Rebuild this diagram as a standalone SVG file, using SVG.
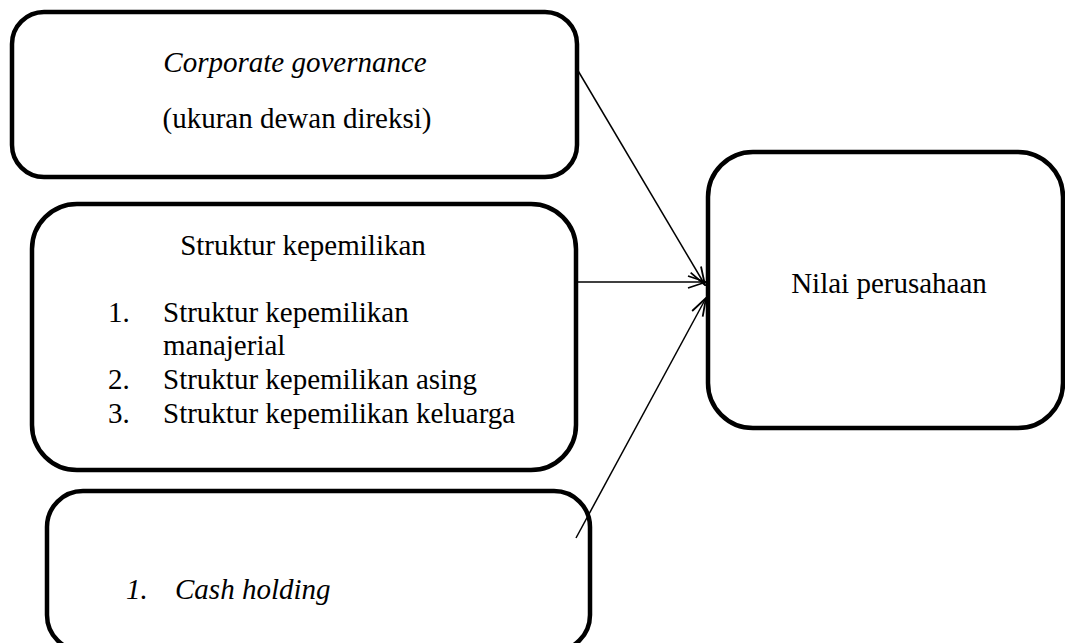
<svg xmlns="http://www.w3.org/2000/svg" width="1065" height="643" viewBox="0 0 1065 643">
  <style>
    .box { fill: #ffffff; stroke: #000000; stroke-width: 4.5; }
    .t { font-family: "Liberation Serif", "Times New Roman", serif; font-size: 29px; fill: #000000; }
    .c { text-anchor: middle; }
    .i { font-style: italic; }
    .conn { stroke: #000000; stroke-width: 1.5; fill: none; marker-end: url(#arrow); }
  </style>
  <defs>
    <marker id="arrow" viewBox="0 0 20 14" refX="19" refY="7" markerWidth="20" markerHeight="14" markerUnits="userSpaceOnUse" orient="auto">
      <path d="M1,1 L19,7 L1,13" fill="none" stroke="#000000" stroke-width="1.8"/>
    </marker>
  </defs>
  <rect width="1065" height="643" fill="#ffffff"/>

  <g id="node-corporate-governance">
    <rect class="box" x="12" y="12" width="565" height="165" rx="32" ry="32"/>
    <text class="t c i" x="295" y="72">Corporate governance</text>
    <text class="t c" x="297" y="128">(ukuran dewan direksi)</text>
  </g>

  <g id="node-struktur-kepemilikan">
    <rect class="box" x="32" y="204" width="544" height="266" rx="45" ry="45"/>
    <text class="t c" x="303" y="255">Struktur kepemilikan</text>
    <text class="t" x="108" y="322">1.</text>
    <text class="t" x="163" y="322">Struktur kepemilikan</text>
    <text class="t" x="163" y="355">manajerial</text>
    <text class="t" x="108" y="389">2.</text>
    <text class="t" x="163" y="389">Struktur kepemilikan asing</text>
    <text class="t" x="108" y="423">3.</text>
    <text class="t" x="163" y="423">Struktur kepemilikan keluarga</text>
  </g>

  <g id="node-cash-holding">
    <rect class="box" x="47" y="491" width="543" height="160" rx="36" ry="36"/>
    <text class="t i" x="126" y="599">1.</text>
    <text class="t i" x="175" y="599">Cash holding</text>
  </g>

  <g id="node-nilai-perusahaan">
    <rect class="box" x="708" y="152" width="355" height="276" rx="45" ry="45"/>
    <text class="t c" x="889" y="293">Nilai perusahaan</text>
  </g>

  <g id="connectors">
    <line class="conn" x1="577" y1="69" x2="705" y2="285"/>
    <line class="conn" x1="577" y1="282" x2="706" y2="282"/>
    <line class="conn" x1="576" y1="538" x2="706" y2="298"/>
  </g>
</svg>
